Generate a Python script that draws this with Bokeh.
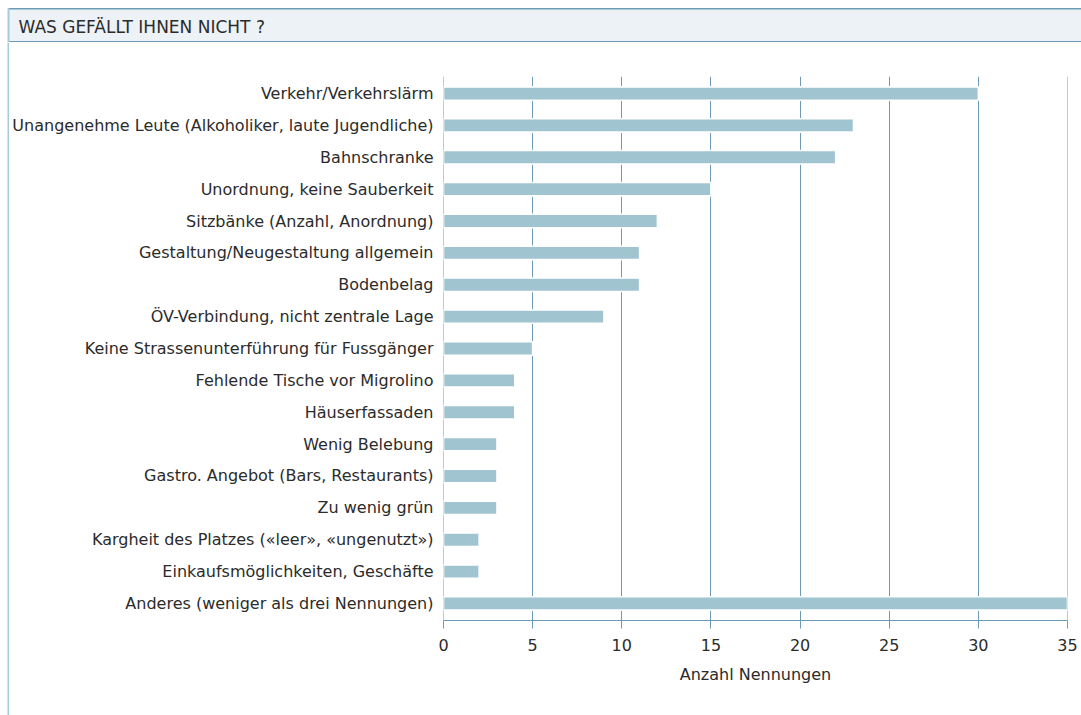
from bokeh.plotting import figure
from bokeh.models import FactorRange, Range1d, Span
from bokeh.layouts import row, column
from bokeh.core.properties import value
from bokeh.embed import file_html
from bokeh.resources import INLINE

categories = [
    "Verkehr/Verkehrslärm",
    "Unangenehme Leute (Alkoholiker, laute Jugendliche)",
    "Bahnschranke",
    "Unordnung, keine Sauberkeit",
    "Sitzbänke (Anzahl, Anordnung)",
    "Gestaltung/Neugestaltung allgemein",
    "Bodenbelag",
    "ÖV-Verbindung, nicht zentrale Lage",
    "Keine Strassenunterführung für Fussgänger",
    "Fehlende Tische vor Migrolino",
    "Häuserfassaden",
    "Wenig Belebung",
    "Gastro. Angebot (Bars, Restaurants)",
    "Zu wenig grün",
    "Kargheit des Platzes («leer», «ungenutzt»)",
    "Einkaufsmöglichkeiten, Geschäfte",
    "Anderes (weniger als drei Nennungen)",
]
counts = [30, 23, 22, 15, 12, 11, 11, 9, 5, 4, 4, 3, 3, 3, 2, 2, 35]
x_ticks = [0, 5, 10, 15, 20, 25, 30, 35]
title_text = "WAS GEFÄLLT IHNEN NICHT ?"
x_label = "Anzahl Nennungen"

FONT = "DejaVu Sans"
FS = "16px"
TEXT = "#2b2b2b"
LINE = "#6d9bb6"
BAR = "#a0c5d0"
BAND = "#edf2f6"
LEFT = "#a9cad8"

W, H = 1081, 715
HH = 42           # header height (incl. 8px top margin)
PAD = 9           # left strip width


def deco_fig(w, h):
    f = figure(width=w, height=h, x_range=Range1d(0, w), y_range=Range1d(h, 0),
               output_backend="svg", toolbar_location=None, min_border=0,
               x_axis_type=None, y_axis_type=None)
    f.background_fill_color = "white"
    f.border_fill_color = "white"
    f.outline_line_color = None
    f.grid.visible = False
    f.frame_align = False
    return f


# header band
header = deco_fig(W, HH)
header.quad(left=[8], right=[W], top=[8], bottom=[HH], fill_color=BAND, line_color=None)
header.quad(left=[8], right=[W], top=[7.5], bottom=[9], fill_color=LINE, line_color=None)
header.quad(left=[8], right=[W], top=[HH - 1.5], bottom=[HH], fill_color=LINE, line_color=None)
header.quad(left=[7], right=[9], top=[8], bottom=[HH], fill_color=LEFT, line_color=None)
header.text(x=[18], y=[26], text=[title_text], text_font=value(FONT), text_font_size="17px",
            text_color=TEXT, text_baseline="middle", text_align="left")

# left border strip
strip = deco_fig(PAD, H - HH)
strip.quad(left=[7], right=[9], top=[0], bottom=[H - HH], fill_color=LEFT, line_color=None)

# main chart
factors = list(reversed(categories))
p = figure(width=W - PAD, height=H - HH,
           y_range=FactorRange(factors=factors, range_padding=0.004),
           x_range=(0, 35), output_backend="svg", toolbar_location=None,
           min_border_left=442 - PAD, min_border_right=14,
           min_border_top=76 - HH, min_border_bottom=95)
p.frame_align = False
p.outline_line_color = None
p.background_fill_color = "white"
p.border_fill_color = "white"

p.add_layout(Span(location=0, dimension="height", line_color=LINE, line_width=1, level="underlay"))
p.add_layout(Span(location=35, dimension="height", line_color=LINE, line_width=1, level="underlay"))

p.hbar(y=categories, right=counts, left=0, height=0.42, fill_color=BAR,
       line_color="white", line_width=1.6)

p.xaxis.ticker = x_ticks
p.xaxis.axis_label = x_label
p.xaxis.axis_line_color = LINE
p.xaxis.axis_line_width = 1
p.xaxis.major_tick_line_color = LINE
p.xaxis.major_tick_out = 8
p.xaxis.major_tick_in = 0
p.xaxis.minor_tick_line_color = None
p.xaxis.major_label_text_font = FONT
p.xaxis.major_label_text_font_size = FS
p.xaxis.major_label_text_color = TEXT
p.xaxis.major_label_standoff = 10
p.xaxis.axis_label_text_font = FONT
p.xaxis.axis_label_text_font_size = FS
p.xaxis.axis_label_text_font_style = "normal"
p.xaxis.axis_label_text_color = TEXT
p.xaxis.axis_label_standoff = 11

p.yaxis.axis_line_color = None
p.yaxis.major_tick_line_color = None
p.yaxis.minor_tick_line_color = None
p.yaxis.major_tick_out = 0
p.yaxis.major_tick_in = 0
p.yaxis.minor_tick_out = 0
p.yaxis.minor_tick_in = 0
p.yaxis.major_label_text_font = FONT
p.yaxis.major_label_text_font_size = FS
p.yaxis.major_label_text_color = TEXT
p.yaxis.major_label_standoff = 10

p.xgrid.grid_line_color = LINE
p.xgrid.grid_line_width = 1
p.ygrid.grid_line_color = None

layout = column(header, row(strip, p, spacing=0), spacing=0)

open("out.html", "w").write(file_html(layout, INLINE))
